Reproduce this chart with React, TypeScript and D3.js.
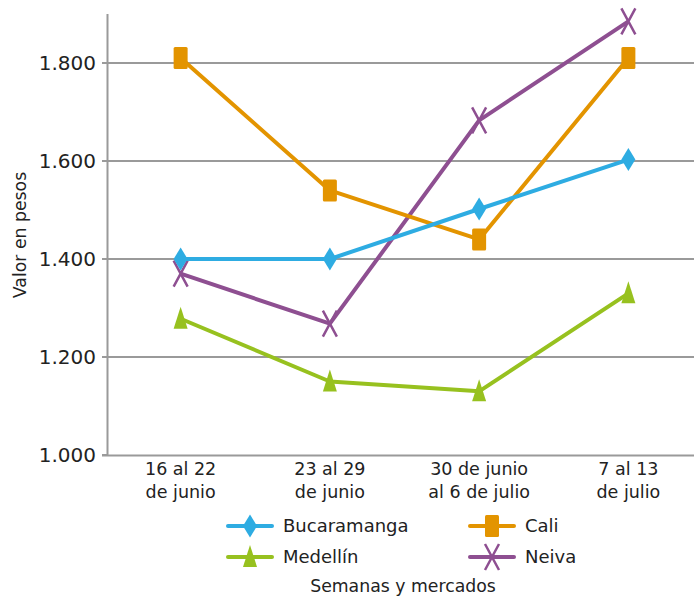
import React from "react";
import * as d3 from "d3";

const categories = ["16 al 22|de junio", "23 al 29|de junio", "30 de junio|al 6 de julio", "7 al 13|de julio"];
const bucaramanga = [1400, 1400, 1502, 1603];
const cali = [1810, 1540, 1440, 1810];
const medellin = [1278, 1150, 1130, 1330];
const neiva = [1370, 1268, 1683, 1885];
const yTicks = [1000, 1200, 1400, 1600, 1800];
const seriesNames = ["Bucaramanga", "Cali", "Medellín", "Neiva"];

const W = 694, H = 598;
const FONT = "'DejaVu Sans', sans-serif";

function Marker({ type, x, y, color }: { type: string; x: number; y: number; color: string }) {
  if (type === "diamond") {
    return <path d={`M${x},${y - 11.5}L${x + 7},${y}L${x},${y + 11.5}L${x - 7},${y}Z`} fill={color} />;
  }
  if (type === "square") {
    return <rect x={x - 7} y={y - 11} width={14} height={22} rx={1.5} fill={color} />;
  }
  if (type === "triangle") {
    return <path d={`M${x},${y - 12}L${x + 7},${y + 10}L${x - 7},${y + 10}Z`} fill={color} />;
  }
  return (
    <path d={`M${x - 7},${y - 13}L${x + 7},${y + 13}M${x + 7},${y - 13}L${x - 7},${y + 13}`} stroke={color} strokeWidth={2.5} fill="none" />
  );
}

export default function App() {
  const x = d3.scalePoint<string>().domain(categories).range([106, 703]).padding(0.5);
  const y = d3.scaleLinear().domain([1000, 1900]).range([455, 14]);
  const series = [
    { name: seriesNames[0], values: bucaramanga, color: "#2EACE2", marker: "diamond" },
    { name: seriesNames[1], values: cali, color: "#E39400", marker: "square" },
    { name: seriesNames[2], values: medellin, color: "#97C11F", marker: "triangle" },
    { name: seriesNames[3], values: neiva, color: "#8E4F91", marker: "x" },
  ];
  const line = d3.line<number>().x((_, i) => x(categories[i]) as number).y((v) => y(v));
  const legendPos = [
    { lx: 228, ly: 526 },
    { lx: 470, ly: 526 },
    { lx: 228, ly: 557 },
    { lx: 470, ly: 557 },
  ];
  const drawOrder = [3, 2, 1, 0];
  return (
    <svg width={W} height={H} style={{ position: "absolute", left: 0, top: 0 }} fontFamily={FONT}>
      <rect width={W} height={H} fill="#fff" />
      {yTicks.filter((t) => t > 1000).map((t) => (
        <line key={t} x1={107} x2={W} y1={y(t)} y2={y(t)} stroke="#9a9a9a" strokeWidth={2} />
      ))}
      {yTicks.map((t) => (
        <g key={"t" + t}>
          <line x1={102} x2={107} y1={y(t)} y2={y(t)} stroke="#9a9a9a" strokeWidth={2} />
          <text x={96} y={y(t)} dy="0.36em" textAnchor="end" fontSize={20} fill="#222">
            {d3.format(",")(t).replace(",", ".")}
          </text>
        </g>
      ))}
      <line x1={107.5} x2={107.5} y1={14} y2={456} stroke="#9a9a9a" strokeWidth={2} />
      <line x1={102} x2={W} y1={455.5} y2={455.5} stroke="#9a9a9a" strokeWidth={2} />
      {categories.map((c) => {
        const [a, b] = c.split("|");
        return (
          <text key={c} x={x(c)} textAnchor="middle" fontSize={17.5} fill="#222">
            <tspan x={x(c)} y={475}>{a}</tspan>
            <tspan x={x(c)} y={498}>{b}</tspan>
          </text>
        );
      })}
      {drawOrder.map((i) => {
        const s = series[i];
        return (
          <g key={s.name}>
            <path d={line(s.values) || ""} fill="none" stroke={s.color} strokeWidth={4} strokeLinejoin="round" />
            {s.values.map((v, j) => (
              <Marker key={j} type={s.marker} x={x(categories[j]) as number} y={y(v)} color={s.color} />
            ))}
          </g>
        );
      })}
      {series.map((s, i) => {
        const { lx, ly } = legendPos[i];
        return (
          <g key={"lg" + s.name}>
            <line x1={lx} x2={lx + 44} y1={ly} y2={ly} stroke={s.color} strokeWidth={4} strokeLinecap="round" />
            <Marker type={s.marker} x={lx + 22} y={ly} color={s.color} />
            <text x={lx + 55} y={ly} dy="0.36em" fontSize={18} fill="#222">{s.name}</text>
          </g>
        );
      })}
      <text x={403} y={592} textAnchor="middle" fontSize={17.3} fill="#222">Semanas y mercados</text>
      <text transform="translate(26,235) rotate(-90)" textAnchor="middle" fontSize={17.3} fill="#222">Valor en pesos</text>
    </svg>
  );
}
